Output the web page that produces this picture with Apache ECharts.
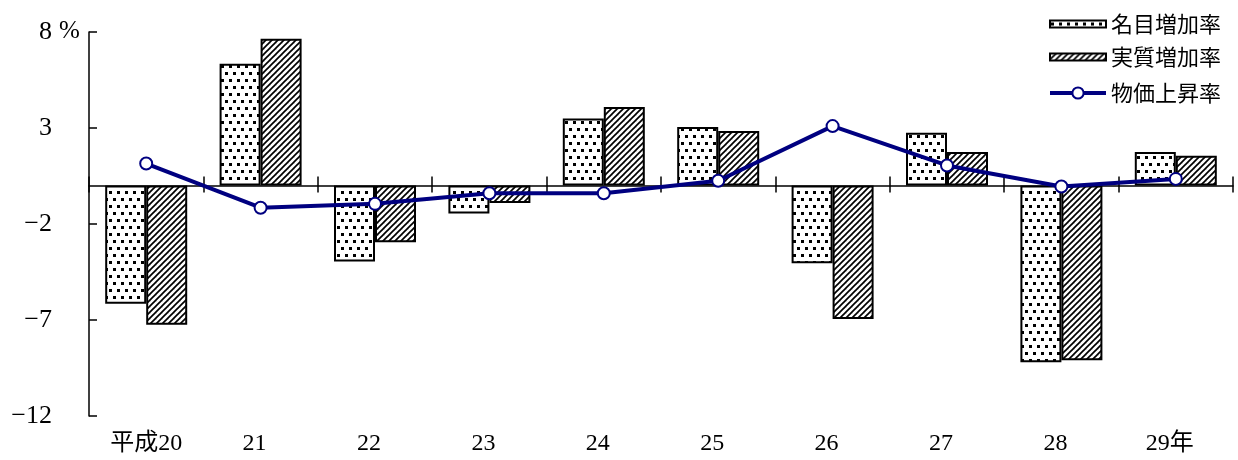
<!DOCTYPE html>
<html>
<head>
<meta charset="utf-8">
<script src="https://cdn.jsdelivr.net/npm/echarts@6/dist/echarts.min.js"></script>
<style>
  html, body { margin: 0; padding: 0; background: #fff; }
  #chart { width: 1238px; height: 460px; }
</style>
</head>
<body>
<div id="chart"></div>
<script>
// 年度
var categories = ['平成20', '21', '22', '23', '24', '25', '26', '27', '28', '29年'];
// 名目増加率 (%)
var nominalGrowth = [-6.15, 6.35, -3.95, -1.45, 3.5, 3.05, -4.05, 2.75, -9.2, 1.75];
// 実質増加率 (%)
var realGrowth = [-7.25, 7.65, -2.95, -0.9, 4.1, 2.85, -6.95, 1.75, -9.1, 1.55];
// 物価上昇率 (%)
var priceRise = [1.15, -1.15, -0.95, -0.4, -0.4, 0.25, 3.1, 1.05, -0.05, 0.35];
// 縦軸の目盛
var yTicks = { min: -12, max: 8, interval: 5 };

var serifFont = '"Liberation Serif", "Noto Sans CJK JP", serif';
var cjkFont = '"Noto Sans CJK JP", sans-serif';
var navy = '#000080';

// 点描パターン
function dotPattern() {
  var c = document.createElement('canvas');
  c.width = 8; c.height = 14;
  var g = c.getContext('2d');
  g.fillStyle = '#fff'; g.fillRect(0, 0, 8, 14);
  g.fillStyle = '#000';
  g.fillRect(1, 2, 3, 3);
  g.fillRect(5, 9, 3, 3);
  return c;
}
// 斜線パターン
function hatchPattern() {
  var s = 6;
  var c = document.createElement('canvas');
  c.width = s; c.height = s;
  var g = c.getContext('2d');
  g.fillStyle = '#fff'; g.fillRect(0, 0, s, s);
  g.strokeStyle = '#000'; g.lineWidth = 1.7;
  for (var k = -s; k <= s; k += s) {
    g.beginPath();
    g.moveTo(k - 1, s + 1);
    g.lineTo(k + s + 1, -1);
    g.stroke();
  }
  return c;
}

// 年度ラベル（先頭以外は少し左寄せ）
var categoryItems = categories.map(function (name, i) {
  return i === 0 ? name : { value: name, textStyle: { padding: [0, 12, 0, 0] } };
});

var chart = echarts.init(document.getElementById('chart'), null, { renderer: 'canvas' });

var tickStyle = { color: '#000', width: 1.5 };

var option = {
  animation: false,
  backgroundColor: '#fff',
  grid: { left: 89, right: 5, top: 32, bottom: 44, containLabel: false },
  legend: [
    {
      data: ['名目増加率', '実質増加率'],
      orient: 'vertical', icon: 'rect',
      right: 12, top: 8,
      itemWidth: 56, itemHeight: 7, itemGap: 11,
      textStyle: { fontFamily: cjkFont, fontSize: 22, color: '#000' }
    },
    {
      data: ['物価上昇率'],
      orient: 'vertical',
      right: 12, top: 77,
      itemWidth: 56, itemHeight: 14,
      lineStyle: { width: 4 },
      textStyle: { fontFamily: cjkFont, fontSize: 22, color: '#000' }
    }
  ],
  xAxis: [
    {
      // 下端の年度ラベル
      type: 'category', data: categoryItems, position: 'bottom',
      axisLine: { show: false, onZero: false },
      axisTick: { show: false },
      axisLabel: { margin: 16, fontFamily: serifFont, fontSize: 24, color: '#000' }
    },
    {
      // 0 の位置の軸線と下向き目盛
      type: 'category', data: categories, position: 'bottom',
      axisLine: { show: true, onZero: true, onZeroAxisIndex: 0, lineStyle: { color: '#000', width: 1.5 } },
      axisTick: { show: true, inside: false, length: 7, lineStyle: tickStyle },
      axisLabel: { show: false }
    },
    {
      // 0 の位置の上向き目盛
      type: 'category', data: categories, position: 'bottom',
      axisLine: { show: false, onZero: true, onZeroAxisIndex: 1 },
      axisTick: { show: true, inside: true, length: 9, lineStyle: tickStyle },
      axisLabel: { show: false }
    }
  ],
  yAxis: [
    {
      type: 'value',
      min: yTicks.min, max: yTicks.max, interval: yTicks.interval,
      axisLine: { show: true, lineStyle: { color: '#000', width: 1.5 } },
      axisTick: { show: true, inside: true, length: 8, lineStyle: tickStyle },
      splitLine: { show: false },
      axisLabel: {
        margin: 37, fontFamily: serifFont, fontSize: 26, color: '#000',
        formatter: function (v) { return String(v).replace('-', '\u2212'); }
      }
    },
    {
      // 上向き目盛の基準用（非表示）
      type: 'value', position: 'left',
      min: yTicks.min, max: yTicks.max, interval: yTicks.interval,
      axisLine: { show: false }, axisTick: { show: false },
      axisLabel: { show: false }, splitLine: { show: false }
    }
  ],
  graphic: [
    {
      type: 'text', left: 59, top: 19,
      style: { text: '%', font: '25px ' + serifFont, fill: '#000' }
    }
  ],
  series: [
    {
      name: '名目増加率', type: 'bar', xAxisIndex: 1, data: nominalGrowth,
      barWidth: 41, barGap: '0%',
      itemStyle: { color: { image: dotPattern(), repeat: 'repeat' }, borderColor: '#000', borderWidth: 2 }
    },
    {
      name: '実質増加率', type: 'bar', xAxisIndex: 1, data: realGrowth,
      barWidth: 41, barGap: '0%',
      itemStyle: { color: { image: hatchPattern(), repeat: 'repeat' }, borderColor: '#000', borderWidth: 2 }
    },
    {
      name: '物価上昇率', type: 'line', xAxisIndex: 1, data: priceRise, z: 5,
      symbol: 'circle', symbolSize: 12, showAllSymbol: true,
      lineStyle: { color: navy, width: 4 },
      itemStyle: { color: '#fff', borderColor: navy, borderWidth: 2 }
    }
  ]
};

chart.setOption(option);
</script>
</body>
</html>
